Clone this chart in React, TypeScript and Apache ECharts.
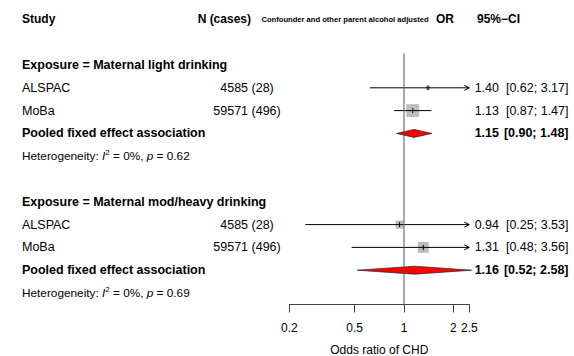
import React, { useEffect, useRef } from "react";
import * as echarts from "echarts";

// ---------- data ----------
const groupLabels = ["Exposure = Maternal light drinking", "Exposure = Maternal mod/heavy drinking"];
const studyNames = [["ALSPAC", "MoBa"], ["ALSPAC", "MoBa"]];
const nCases = [["4585 (28)", "59571 (496)"], ["4585 (28)", "59571 (496)"]];
const studyOR = [[1.4, 1.13], [0.94, 1.31]];
const studyLower = [[0.62, 0.87], [0.25, 0.48]];
const studyUpper = [[3.17, 1.47], [3.53, 3.56]];
const studyWeight = [[9.4, 90.6], [36.4, 63.6]];
const pooledLabel = "Pooled fixed effect association";
const pooledOR = [1.15, 1.16];
const pooledLower = [0.9, 0.52];
const pooledUpper = [1.48, 2.58];
const hetI2 = [0, 0];
const hetP = [0.62, 0.69];
const tickValues = [0.2, 0.5, 1, 2, 2.5];
const tickLabels = ["0.2", "0.5", "1", "2", "2.5"];
const headerStudy = "Study";
const headerN = "N (cases)";
const headerForest = "Confounder and other parent alcohol adjusted";
const headerOR = "OR";
const headerCI = "95%\u2212CI";
const axisTitle = "Odds ratio of CHD";
const xMin = 0.2;
const xMax = 2.5;

// ---------- layout helpers ----------
const FONT = "'Liberation Sans', Arial, Helvetica, sans-serif";
const BODY = 12.5;
const HET = 11.8;
const LMIN = Math.log10(xMin);
const LMAX = Math.log10(xMax);

type Row = { row: number; kind: string; g: number; s: number };
const rows: Row[] = [];
let rc = 1;
groupLabels.forEach((_, g) => {
  rows.push({ row: rc++, kind: "group", g, s: -1 });
  studyNames[g].forEach((__, s) => rows.push({ row: rc++, kind: "study", g, s }));
  rows.push({ row: rc++, kind: "pooled", g, s: -1 });
  rows.push({ row: rc++, kind: "het", g, s: -1 });
  rc++;
});
const lastRow = rc - 2;
rows.push({ row: -1, kind: "header", g: -1, s: -1 });

const fmt2 = (v: number) => v.toFixed(2);

function txt(text: string, x: number, y: number, opts: any = {}) {
  return {
    type: "text",
    style: {
      text,
      x,
      y,
      fill: "#000",
      font: `${opts.bold ? "bold " : ""}${opts.size || BODY}px ${FONT}`,
      fontFamily: FONT,
      fontSize: opts.size || BODY,
      fontWeight: opts.bold ? "bold" : "normal",
      align: opts.align || "left",
      verticalAlign: "middle",
    },
  };
}

export default function App() {
  const ref = useRef<HTMLDivElement>(null);
  useEffect(() => {
    if (!ref.current) return;
    const chart = echarts.init(ref.current, null, { renderer: "svg" });

    const studyData: any[] = [];
    const pooledData: any[] = [];
    rows.forEach((r) => {
      if (r.kind === "study") {
        studyData.push([
          Math.log10(studyOR[r.g][r.s]),
          r.row,
          Math.log10(studyLower[r.g][r.s]),
          Math.log10(studyUpper[r.g][r.s]),
          studyWeight[r.g][r.s],
        ]);
      } else if (r.kind === "pooled") {
        pooledData.push([
          Math.log10(pooledOR[r.g]),
          r.row,
          Math.log10(pooledLower[r.g]),
          Math.log10(pooledUpper[r.g]),
        ]);
      }
    });

    const option: any = {
      animation: false,
      backgroundColor: "#fff",
      grid: {
        left: 289.3,
        width: 180,
        top: 53.6,
        height: 250.8,
        containLabel: false,
        outerBoundsMode: "none",
      },
      xAxis: {
        type: "value",
        min: LMIN,
        max: LMAX,
        splitLine: { show: false },
        axisLine: { show: true, lineStyle: { color: "#444", width: 1 } },
        axisTick: {
          show: true,
          length: 8,
          customValues: tickValues.map((v) => Math.log10(v)),
          lineStyle: { color: "#444", width: 1 },
        },
        axisLabel: {
          customValues: tickValues.map((v) => Math.log10(v)),
          margin: 18,
          color: "#000",
          fontFamily: FONT,
          fontSize: 12,
          formatter: (v: number) => {
            let best = 0;
            tickValues.forEach((t, i) => {
              if (Math.abs(Math.log10(t) - v) < Math.abs(Math.log10(tickValues[best]) - v)) best = i;
            });
            return tickLabels[best];
          },
        },
        name: axisTitle,
        nameLocation: "middle",
        nameGap: 40,
        nameTextStyle: { color: "#000", fontFamily: FONT, fontSize: 12 },
      },
      yAxis: { type: "value", inverse: true, min: 0.5, max: lastRow + 0.5, show: false },
      series: [
        {
          type: "custom",
          name: "studies",
          encode: { x: 0, y: 1 },
          data: studyData,
          renderItem: (params: any, api: any) => {
            const est = api.value(0);
            const row = api.value(1);
            const lo = api.value(2);
            const hi = api.value(3);
            const w = api.value(4);
            const [cx, cy] = api.coord([est, row]);
            const xl = api.coord([Math.max(lo, LMIN), row])[0];
            const xu = api.coord([Math.min(hi, LMAX), row])[0];
            const size = 1.36 * Math.sqrt(w);
            const children: any[] = [
              {
                type: "rect",
                shape: { x: cx - size / 2, y: cy - size / 2, width: size, height: size },
                style: { fill: "#bdbdbd", stroke: "none" },
              },
              {
                type: "line",
                shape: { x1: xl, y1: cy, x2: xu, y2: cy },
                style: { stroke: "#000", lineWidth: 1 },
              },
              {
                type: "line",
                shape: { x1: cx, y1: cy - 2.5, x2: cx, y2: cy + 2.5 },
                style: { stroke: "#000", lineWidth: 1 },
              },
            ];
            if (hi > LMAX) {
              children.push({
                type: "polyline",
                shape: { points: [[xu - 5, cy - 2.5], [xu, cy], [xu - 5, cy + 2.5]] },
                style: { stroke: "#000", lineWidth: 1, fill: "none" },
              });
            }
            if (lo < LMIN) {
              children.push({
                type: "polyline",
                shape: { points: [[xl + 5, cy - 2.5], [xl, cy], [xl + 5, cy + 2.5]] },
                style: { stroke: "#000", lineWidth: 1, fill: "none" },
              });
            }
            return { type: "group", children };
          },
          z: 2,
        },
        {
          type: "custom",
          name: "pooled",
          encode: { x: 0, y: 1 },
          data: pooledData,
          renderItem: (params: any, api: any) => {
            const [cx, cy] = api.coord([api.value(0), api.value(1)]);
            const xl = api.coord([api.value(2), api.value(1)])[0];
            const xu = api.coord([api.value(3), api.value(1)])[0];
            const h = 4;
            return {
              type: "polygon",
              shape: { points: [[xl, cy], [cx, cy - h], [xu, cy], [cx, cy + h]] },
              style: { fill: "#ff0000", stroke: "#222", lineWidth: 0.7 },
            };
          },
          z: 3,
        },
        {
          type: "custom",
          name: "reference",
          encode: { x: 0, y: 1 },
          data: [[0, 0.5, lastRow + 0.5]],
          renderItem: (params: any, api: any) => {
            const p1 = api.coord([api.value(0), api.value(1)]);
            const p2 = api.coord([api.value(0), api.value(2)]);
            return {
              type: "line",
              shape: { x1: p1[0], y1: p1[1], x2: p2[0], y2: p2[1] },
              style: { stroke: "#555", lineWidth: 1 },
            };
          },
          z: 4,
        },
        {
          type: "custom",
          name: "texts",
          encode: { x: 0, y: 1 },
          data: rows.map((r) => [0, r.row]),
          renderItem: (params: any, api: any) => {
            const r = rows[params.dataIndex];
            const y = api.coord([0, api.value(1)])[1];
            const ch: any[] = [];
            const XL = 22;
            const XN = 247;
            const XOR = 499;
            const XCI = 568.5;
            if (r.kind === "header") {
              ch.push(txt(headerStudy, XL, y, { bold: true, size: 12 }));
              ch.push(txt(headerN, 251, y, { bold: true, size: 12, align: "right" }));
              ch.push(txt(headerForest, 345, y, { bold: true, size: 7.6, align: "center" }));
              ch.push(txt(headerOR, 445, y, { bold: true, size: 12, align: "center" }));
              ch.push(txt(headerCI, 477, y, { bold: true, size: 12 }));
            } else if (r.kind === "group") {
              ch.push(txt(groupLabels[r.g], XL, y, { bold: true }));
            } else if (r.kind === "study") {
              ch.push(txt(studyNames[r.g][r.s], XL, y));
              ch.push(txt(nCases[r.g][r.s], XN, y, { align: "center" }));
              ch.push(txt(fmt2(studyOR[r.g][r.s]), XOR, y, { align: "right" }));
              ch.push(
                txt(`[${fmt2(studyLower[r.g][r.s])}; ${fmt2(studyUpper[r.g][r.s])}]`, XCI, y, { align: "right" })
              );
            } else if (r.kind === "pooled") {
              ch.push(txt(pooledLabel, XL, y, { bold: true }));
              ch.push(txt(fmt2(pooledOR[r.g]), XOR, y, { bold: true, align: "right" }));
              ch.push(
                txt(`[${fmt2(pooledLower[r.g])}; ${fmt2(pooledUpper[r.g])}]`, XCI, y, { bold: true, align: "right" })
              );
            } else if (r.kind === "het") {
              const base = { fontFamily: FONT, fontSize: HET, lineHeight: 15, fill: "#000" };
              ch.push({
                type: "text",
                style: {
                  text: `{n|Heterogeneity: }{i|I}{s|2}{n| = ${hetI2[r.g]}%, }{i|p}{n| = ${fmt2(hetP[r.g])}}`,
                  x: XL,
                  y,
                  align: "left",
                  verticalAlign: "middle",
                  fontFamily: FONT,
                  fontSize: HET,
                  rich: {
                    n: { ...base },
                    i: { ...base, fontStyle: "italic" },
                    s: { ...base, fontSize: 8, lineHeight: 15, verticalAlign: "top" },
                  },
                },
              });
            }
            return { type: "group", children: ch };
          },
          z: 5,
        },
      ],
    };
    chart.setOption(option);
    return () => chart.dispose();
  }, []);
  return (
    <div
      ref={ref}
      style={{ position: "fixed", left: 0, top: 0, width: 574, height: 356, background: "#fff" }}
    />
  );
}
